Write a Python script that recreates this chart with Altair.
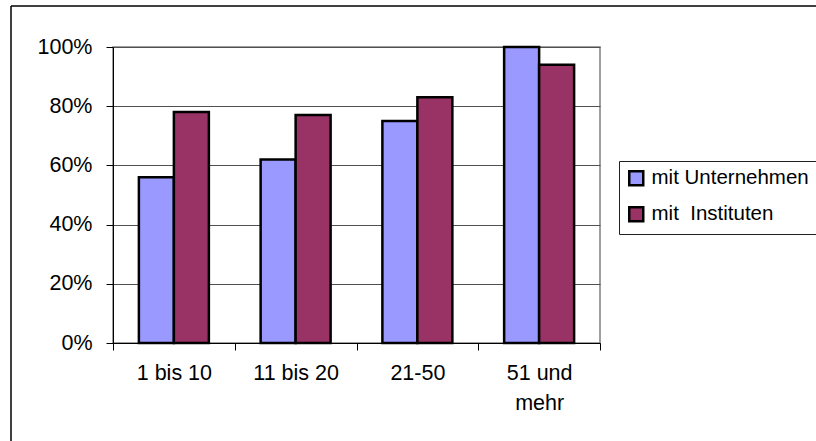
import altair as alt
import pandas as pd

# Share of respondents by company size class (columns) for two kinds of cooperation
categories = ["1 bis 10", "11 bis 20", "21-50", "51 und mehr"]
series_names = ["mit Unternehmen", "mit\u00a0 Instituten"]
mit_unternehmen = [0.56, 0.62, 0.75, 1.00]
mit_instituten = [0.78, 0.77, 0.83, 0.94]
y_ticks = [0, 0.2, 0.4, 0.6, 0.8, 1.0]

rows = []
for cat, u, i in zip(categories, mit_unternehmen, mit_instituten):
    rows.append({"Größe": cat, "Reihe": series_names[0], "Anteil": u})
    rows.append({"Größe": cat, "Reihe": series_names[1], "Anteil": i})
df = pd.DataFrame(rows)

FONT = "Liberation Sans"

bars = alt.Chart(df).mark_bar(stroke="black", strokeWidth=2.5).encode(
    x=alt.X(
        "Größe:N",
        sort=categories,
        scale=alt.Scale(paddingInner=0, paddingOuter=0),
        axis=alt.Axis(
            title=None,
            labelAngle=0,
            tickBand="extent",
            tickSize=7,
            labelPadding=12,
            labelFontSize=21.5,
            labelLineHeight=30,
            labelExpr="datum.value == '51 und mehr' ? ['51 und', 'mehr'] : datum.value",
        ),
    ),
    xOffset=alt.XOffset(
        "Reihe:N",
        sort=series_names,
        scale=alt.Scale(paddingOuter=0.74, paddingInner=0),
    ),
    y=alt.Y(
        "Anteil:Q",
        scale=alt.Scale(domain=[0, 1], nice=False),
        axis=alt.Axis(
            title=None,
            values=y_ticks,
            format=".0%",
            tickSize=7,
            labelPadding=14,
            labelFontSize=21.5,
            grid=True,
            gridColor="#505050",
            gridWidth=1,
        ),
    ),
    color=alt.Color(
        "Reihe:N",
        sort=series_names,
        scale=alt.Scale(domain=series_names, range=["#9999FF", "#993366"]),
        legend=alt.Legend(
            title=None,
            orient="none",
            legendX=506,
            legendY=114,
            strokeColor="#202020",
            fillColor="white",
            padding=7,
            symbolType="square",
            symbolSize=196,
            symbolStrokeColor="black",
            symbolStrokeWidth=2.5,
            symbolOpacity=1,
            labelFontSize=20.5,
            labelOffset=5,
            rowPadding=11,
            labelLimit=400,
        ),
    ),
)

# Outer chart frame (left and top edges)
frame_left = alt.Chart(alt.Data(values=[{}])).mark_rule(color="black", strokeWidth=1.5).encode(
    x=alt.value(-102), y=alt.value(-41), y2=alt.value(420)
)
frame_top = alt.Chart(alt.Data(values=[{}])).mark_rule(color="black", strokeWidth=1.5).encode(
    x=alt.value(-102), x2=alt.value(720), y=alt.value(-41)
)

chart = (
    alt.layer(frame_left, frame_top, bars)
    .properties(
        width=487,
        height=296,
        autosize="none",
        padding={"left": 113, "top": 47, "right": 216, "bottom": 98},
    )
    .configure(font=FONT, background="white")
    .configure_view(stroke="#808080", strokeWidth=1.5)
    .configure_axis(
        domainColor="black",
        domainWidth=1,
        tickColor="black",
        tickWidth=1,
        labelColor="black",
        labelFont=FONT,
    )
    .configure_legend(labelFont=FONT, labelColor="black")
)

chart.save("out.html", embed_options={"renderer": "svg", "actions": False})
